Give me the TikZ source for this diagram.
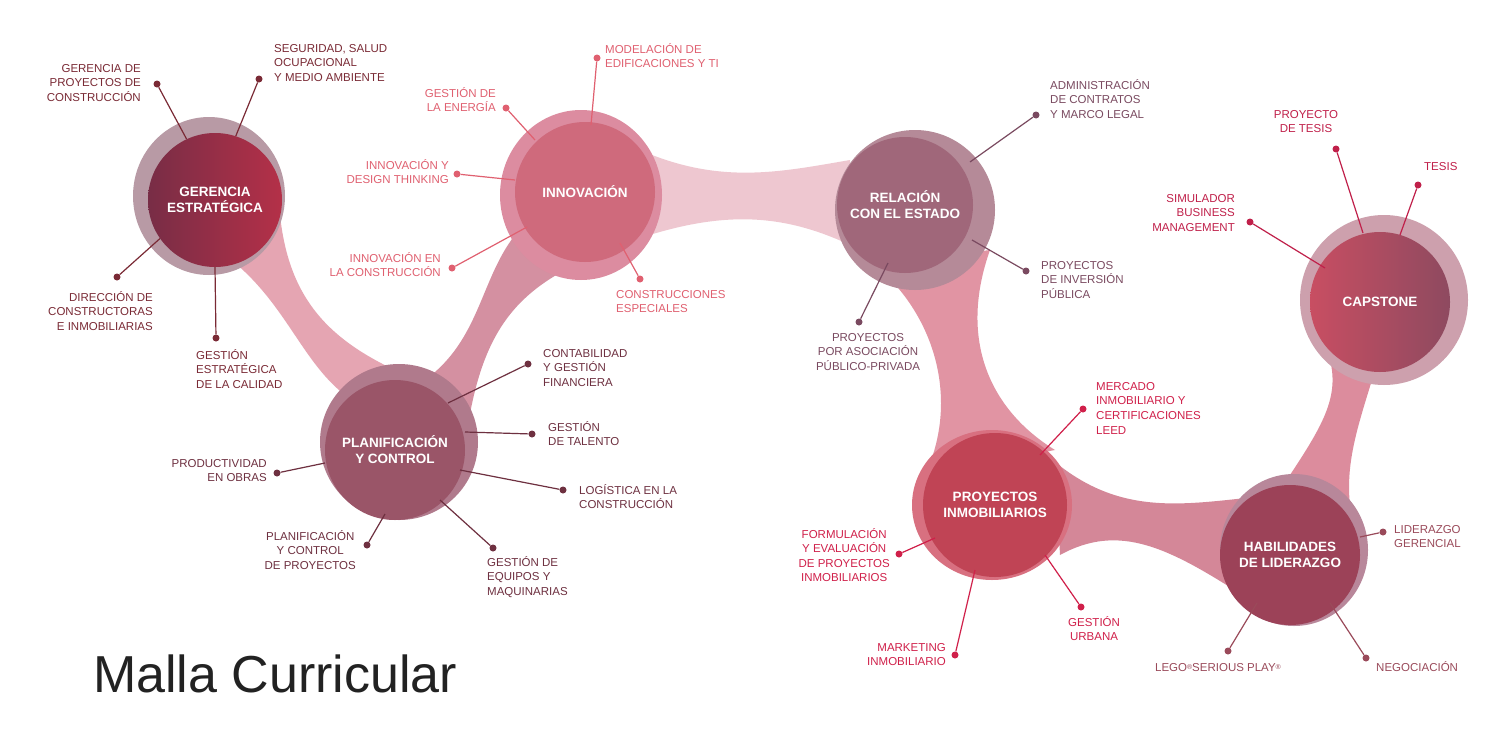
\documentclass[tikz,border=0pt]{standalone}
\usepackage{fontspec}
\setmainfont{Liberation Sans}
\begin{document}
\begin{tikzpicture}[x=1pt,y=-1pt,
  lbl/.style={font=\fontsize{11.5}{14.6}\selectfont, inner sep=0, align=left},
  lblr/.style={lbl, align=right},
  lblc/.style={lbl, align=center},
  ttl/.style={font=\fontsize{13.5}{16}\selectfont\bfseries, text=white, align=center},
  core/.style={circle, minimum size=#1, inner sep=0},
  dot/.style={circle, fill, inner sep=0, minimum size=7pt},
  lead/.style={line width=1.2pt},
  bridge/.style={opacity=0.85}]
\useasboundingbox (0,0) rectangle (1500,750);
\fill[white] (0,0) rectangle (1500,750);
\definecolor{cG}{HTML}{7A2A35}\definecolor{cI}{HTML}{E06070}
\definecolor{cP}{HTML}{6E3040}\definecolor{cR}{HTML}{7A4A60}
\definecolor{cY}{HTML}{D0204A}\definecolor{cH}{HTML}{9A4A5A}
\definecolor{cC}{HTML}{C0204A}
% bridges
\fill[bridge,color={rgb,255:red,225;green,150;blue,165}] (225,255) .. controls (285,300) and (300,360) .. (345,395) -- (430,385) .. controls (340,350) and (290,310) .. (280,215) -- cycle;
\fill[bridge,color={rgb,255:red,205;green,125;blue,145}] (425,380) .. controls (480,340) and (480,280) .. (515,235) -- (565,270) .. controls (510,300) and (482,340) .. (468,425) -- cycle;
\fill[bridge,color={rgb,255:red,236;green,190;blue,200}] (640,150) .. controls (720,185) and (780,172) .. (850,160) -- (850,245) .. controls (780,212) and (720,212) .. (640,238) -- cycle;
\fill[bridge,color={rgb,255:red,220;green,130;blue,148}] (875,265) .. controls (935,315) and (960,400) .. (925,475) -- (1055,450) .. controls (990,410) and (958,340) .. (990,250) -- cycle;
\fill[bridge,color={rgb,255:red,205;green,115;blue,135}] (1055,462) .. controls (1120,515) and (1180,505) .. (1255,497) -- (1250,600) .. controls (1170,548) and (1120,522) .. (1060,555) -- cycle;
\fill[bridge,color={rgb,255:red,215;green,120;blue,140}] (1280,490) .. controls (1320,430) and (1340,400) .. (1330,360) -- (1375,370) .. controls (1360,420) and (1345,460) .. (1350,505) -- cycle;
% halos
\fill[color={rgb,255:red,184;green,154;blue,165}] (209,196) ellipse [x radius=76, y radius=79];
\fill[color={rgb,255:red,220;green,140;blue,160}] (581,195) ellipse [x radius=81, y radius=85];
\fill[color={rgb,255:red,176;green,122;blue,140}] (399,442) ellipse [x radius=79, y radius=78];
\fill[color={rgb,255:red,181;green,138;blue,152}] (915,210) ellipse [x radius=80, y radius=80];
\fill[color={rgb,255:red,216;green,112;blue,128}] (992,505) ellipse [x radius=80, y radius=75];
\fill[color={rgb,255:red,184;green,135;blue,154}] (1294,550) ellipse [x radius=74, y radius=76];
\fill[color={rgb,255:red,205;green,160;blue,173}] (1384,300) ellipse [x radius=84, y radius=85];
% cores
\node[core=134pt, left color={rgb,255:red,120;green,45;blue,70}, right color={rgb,255:red,180;green,48;blue,72}] (g) at (215,200) {};
\node[core=140pt, fill={rgb,255:red,207;green,106;blue,124}] (i) at (585,192) {};
\node[core=140pt, fill={rgb,255:red,154;green,85;blue,104}] (p) at (395,450) {};
\node[core=136pt, fill={rgb,255:red,160;green,103;blue,122}] (r) at (905,205) {};
\node[core=144pt, fill={rgb,255:red,192;green,68;blue,85}] (y) at (995,505) {};
\node[core=140pt, fill={rgb,255:red,156;green,66;blue,88}] (h) at (1290,555) {};
\node[core=140pt, left color={rgb,255:red,200;green,78;blue,98}, right color={rgb,255:red,142;green,74;blue,96}] (c) at (1380,302) {};
\node[ttl] at (g) {GERENCIA\\ESTRATÉGICA};
\node[ttl] at (i) {INNOVACIÓN};
\node[ttl] at (p) {PLANIFICACIÓN\\Y CONTROL};
\node[ttl] at (r) {RELACIÓN\\CON EL ESTADO};
\node[ttl] at (y) {PROYECTOS\\INMOBILIARIOS};
\node[ttl] at (h) {HABILIDADES\\DE LIDERAZGO};
\node[ttl] at (c) {CAPSTONE};
% Gerencia
\begin{scope}[cG]
\node[dot] (g1) at (157,84) {}; \node[dot] (g2) at (259,79) {}; \node[dot] (g3) at (117,277) {}; \node[dot] (g4) at (216,338) {};
\draw[lead] (g1) -- (g.115); \draw[lead] (g2) -- (g.72); \draw[lead] (g3) -- (g.215); \draw[lead] (g4) -- (g.-90);
\node[lblr,anchor=north east] at (141,64) {GERENCIA DE\\PROYECTOS DE\\CONSTRUCCIÓN};
\node[lbl,anchor=north west] at (274,44) {SEGURIDAD, SALUD\\OCUPACIONAL\\Y MEDIO AMBIENTE};
\node[lblr,anchor=north east] at (153,291) {DIRECCIÓN DE\\CONSTRUCTORAS\\E INMOBILIARIAS};
\node[lbl,anchor=north west] at (196,349) {GESTIÓN\\ESTRATÉGICA\\DE LA CALIDAD};
\end{scope}
% Innovacion
\begin{scope}[cI]
\node[dot] (i1) at (597,58) {}; \node[dot] (i2) at (506,108) {}; \node[dot] (i3) at (457,174) {}; \node[dot] (i4) at (452,268) {}; \node[dot] (i5) at (640,279) {};
\draw[lead] (i1) -- (591,125); \draw[lead] (i2) -- (535,140); \draw[lead] (i3) -- (515,180); \draw[lead] (i4) -- (527,227); \draw[lead] (i5) -- (620,243);
\node[lbl,anchor=north west] at (605,43) {MODELACIÓN DE\\EDIFICACIONES Y TI};
\node[lblr,anchor=north east] at (496,87) {GESTIÓN DE\\LA ENERGÍA};
\node[lblr,anchor=north east] at (449,159) {INNOVACIÓN Y\\DESIGN THINKING};
\node[lblr,anchor=north east] at (441,252) {INNOVACIÓN EN\\LA CONSTRUCCIÓN};
\node[lbl,anchor=north west] at (616,290) {CONSTRUCCIONES\\ESPECIALES};
\end{scope}
% Planificacion
\begin{scope}[cP]
\node[dot] (p1) at (528,364) {}; \node[dot] (p2) at (532,434) {}; \node[dot] (p3) at (563,490) {}; \node[dot] (p4) at (493,548) {}; \node[dot] (p5) at (367,545) {}; \node[dot] (p6) at (277,473) {};
\draw[lead] (p1) -- (448,403); \draw[lead] (p2) -- (465,432); \draw[lead] (p3) -- (460,470); \draw[lead] (p4) -- (440,500); \draw[lead] (p5) -- (385,514); \draw[lead] (p6) -- (325,463);
\node[lbl,anchor=north west] at (543,349) {CONTABILIDAD\\Y GESTIÓN\\FINANCIERA};
\node[lbl,anchor=north west] at (548,421) {GESTIÓN\\DE TALENTO};
\node[lbl,anchor=north west] at (579,484) {LOGÍSTICA EN LA\\CONSTRUCCIÓN};
\node[lbl,anchor=north west] at (487,556) {GESTIÓN DE\\EQUIPOS Y\\MAQUINARIAS};
\node[lblc,anchor=north east] at (356,530) {PLANIFICACIÓN\\Y CONTROL\\DE PROYECTOS};
\node[lblr,anchor=north east] at (267,459) {PRODUCTIVIDAD\\EN OBRAS};
\end{scope}
% Relacion
\begin{scope}[cR]
\node[dot] (r1) at (1036,115) {}; \node[dot] (r2) at (1026,271) {}; \node[dot] (r3) at (859,322) {};
\draw[lead] (r1) -- (970,162); \draw[lead] (r2) -- (972,240); \draw[lead] (r3) -- (888,263);
\node[lbl,anchor=north west] at (1050,79) {ADMINISTRACIÓN\\DE CONTRATOS\\Y MARCO LEGAL};
\node[lbl,anchor=north west] at (1041,261) {PROYECTOS\\DE INVERSIÓN\\PÚBLICA};
\node[lblc,anchor=north] at (868,333) {PROYECTOS\\POR ASOCIACIÓN\\PÚBLICO-PRIVADA};
\end{scope}
% Proyectos
\begin{scope}[cY]
\node[dot] (y1) at (1083,409) {}; \node[dot] (y2) at (899,554) {}; \node[dot] (y3) at (955,655) {}; \node[dot] (y4) at (1081,607) {};
\draw[lead] (y1) -- (1040,455); \draw[lead] (y2) -- (935,538); \draw[lead] (y3) -- (975,570); \draw[lead] (y4) -- (1045,555);
\node[lbl,anchor=north west] at (1096,382) {MERCADO\\INMOBILIARIO Y\\CERTIFICACIONES\\LEED};
\node[lblc,anchor=north east] at (890,528) {FORMULACIÓN\\Y EVALUACIÓN\\DE PROYECTOS\\INMOBILIARIOS};
\node[lblr,anchor=north east] at (946,643) {MARKETING\\INMOBILIARIO};
\node[lblc,anchor=north west] at (1068,616) {GESTIÓN\\URBANA};
\end{scope}
% Habilidades
\begin{scope}[cH]
\node[dot] (h1) at (1383,532) {}; \node[dot] (h2) at (1366,658) {}; \node[dot] (h3) at (1228,651) {};
\draw[lead] (h1) -- (1360,537); \draw[lead] (h2) -- (1330,603); \draw[lead] (h3) -- (1257,603);
\node[lblc,anchor=north west] at (1394,525) {LIDERAZGO\\GERENCIAL};
\node[lbl,anchor=north west] at (1376,661) {NEGOCIACIÓN};
\node[lbl,anchor=north] at (1218,663) {LEGO\raisebox{1.5pt}{\fontsize{7}{7}\selectfont®}SERIOUS PLAY\raisebox{1.5pt}{\fontsize{7}{7}\selectfont®}};
\end{scope}
% Capstone
\begin{scope}[cC]
\node[dot] (c1) at (1336,149) {}; \node[dot] (c2) at (1418,185) {}; \node[dot] (c3) at (1250,222) {};
\draw[lead] (c1) -- (1363,233); \draw[lead] (c2) -- (1400,235); \draw[lead] (c3) -- (1325,268);
\node[lblc,anchor=north] at (1306,110) {PROYECTO\\DE TESIS};
\node[lbl,anchor=north west] at (1424,162) {TESIS};
\node[lblr,anchor=north east] at (1235,194) {SIMULADOR\\BUSINESS\\MANAGEMENT};
\end{scope}
\node[anchor=base west, inner sep=0, font=\fontsize{52}{52}\selectfont, text={rgb,255:red,34;green,34;blue,34}] (title) at (93,692) {Malla Curricular};
\end{tikzpicture}
\end{document}
